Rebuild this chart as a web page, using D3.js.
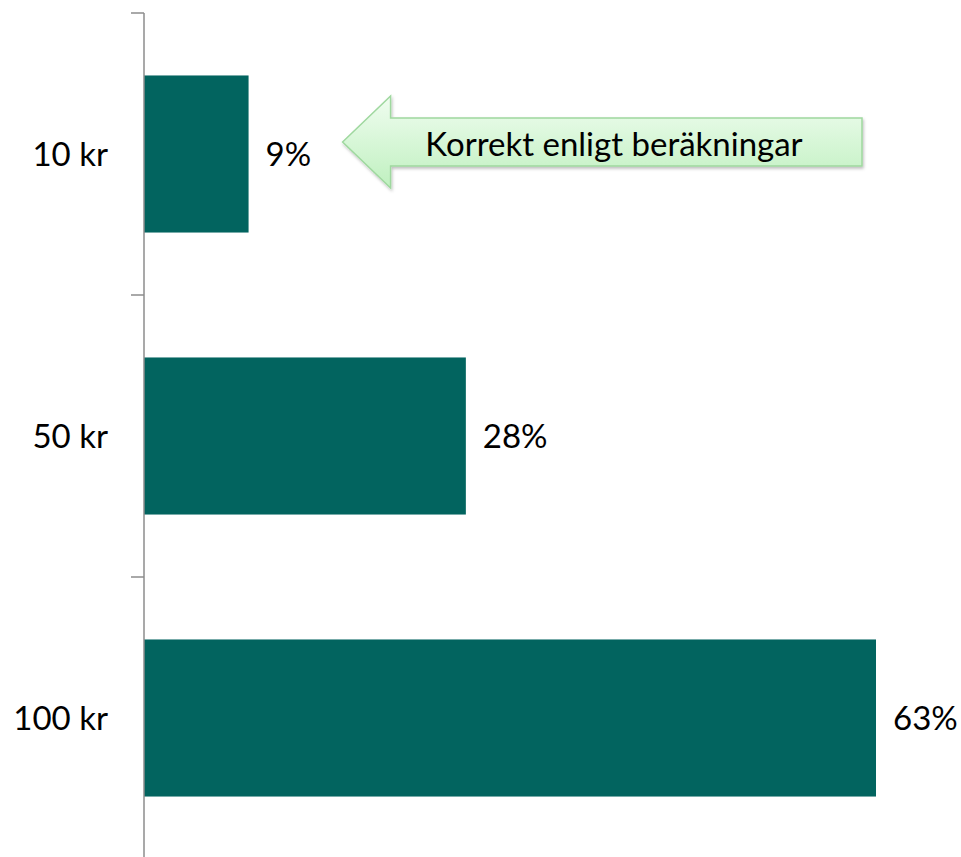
<!DOCTYPE html>
<html>
<head>
<meta charset="utf-8">
<script src="https://cdn.jsdelivr.net/npm/d3@7"></script>
<style>
  body { margin: 0; background: #fff; }
  text { font-family: Lato, "Noto Sans", sans-serif; fill: #000; }
</style>
</head>
<body>
<div id="chart"></div>
<script>
// Data
const categories = ["10 kr", "50 kr", "100 kr"];
const shares = [0.09, 0.277, 0.63];
const note = "Korrekt enligt beräkningar";

const width = 961, height = 857;

const svg = d3.select("#chart")
  .append("svg")
  .attr("width", width)
  .attr("height", height);

// Scales
const x = d3.scaleLinear()
  .domain([0, 0.63])
  .range([144, 876]);

const y = d3.scaleBand()
  .domain(categories)
  .range([13, 859])
  .paddingInner(0.443)
  .paddingOuter(0.2215);

const step = y.step();

// Gradient for the arrow
const defs = svg.append("defs");
const grad = defs.append("linearGradient")
  .attr("id", "arrowFill")
  .attr("x1", 0).attr("y1", 0).attr("x2", 0).attr("y2", 1);
grad.append("stop").attr("offset", "0%").attr("stop-color", "#f0fdf0");
grad.append("stop").attr("offset", "100%").attr("stop-color", "#bff0bf");

const shadow = defs.append("filter").attr("id", "shadow")
  .attr("x", "-10%").attr("y", "-30%").attr("width", "120%").attr("height", "160%");
shadow.append("feDropShadow")
  .attr("dx", 1).attr("dy", 2).attr("stdDeviation", 1.5)
  .attr("flood-color", "#000").attr("flood-opacity", 0.25);

// Bars
svg.selectAll("rect.bar")
  .data(categories)
  .join("rect")
  .attr("class", "bar")
  .attr("x", x(0))
  .attr("y", d => y(d))
  .attr("width", (d, i) => x(shares[i]) - x(0))
  .attr("height", y.bandwidth())
  .attr("fill", "#02645f");

// Axis (ticks between categories)
const axis = svg.append("g").attr("stroke", "#8c8c8c").attr("stroke-width", 1.5);
axis.append("line")
  .attr("x1", x(0)).attr("x2", x(0))
  .attr("y1", y.range()[0]).attr("y2", y.range()[1]);
axis.selectAll("line.tick")
  .data(d3.range(categories.length + 1))
  .join("line")
  .attr("class", "tick")
  .attr("x1", x(0) - 13).attr("x2", x(0))
  .attr("y1", i => y.range()[0] + i * step)
  .attr("y2", i => y.range()[0] + i * step);

// Category labels
svg.selectAll("text.cat")
  .data(categories)
  .join("text")
  .attr("class", "cat")
  .attr("x", 108)
  .attr("y", d => y(d) + y.bandwidth() / 2)
  .attr("dy", "0.35em")
  .attr("text-anchor", "end")
  .attr("font-size", 33)
  .text(d => d);

// Value labels
const fmt = d3.format(".0%");
svg.selectAll("text.val")
  .data(categories)
  .join("text")
  .attr("class", "val")
  .attr("x", (d, i) => x(shares[i]) + 17)
  .attr("y", d => y(d) + y.bandwidth() / 2)
  .attr("dy", "0.35em")
  .attr("font-size", 33)
  .text((d, i) => fmt(shares[i]));

// Annotation arrow pointing at the first bar
const cy = y(categories[0]) + y.bandwidth() / 2 - 12;
const tipX = x(shares[0]) + 94;
const headX = tipX + 48, endX = 862;
const arrowPts = [
  [tipX, cy],
  [headX, cy - 46],
  [headX, cy - 24],
  [endX, cy - 24],
  [endX, cy + 24],
  [headX, cy + 24],
  [headX, cy + 46]
];
svg.append("path")
  .attr("d", d3.line()(arrowPts) + "Z")
  .attr("fill", "url(#arrowFill)")
  .attr("stroke", "#9fd89f")
  .attr("stroke-width", 1.5)
  .attr("filter", "url(#shadow)");

svg.append("text")
  .attr("x", 614)
  .attr("y", cy + 2)
  .attr("dy", "0.35em")
  .attr("text-anchor", "middle")
  .attr("font-size", 33)
  .text(note);
</script>
</body>
</html>
